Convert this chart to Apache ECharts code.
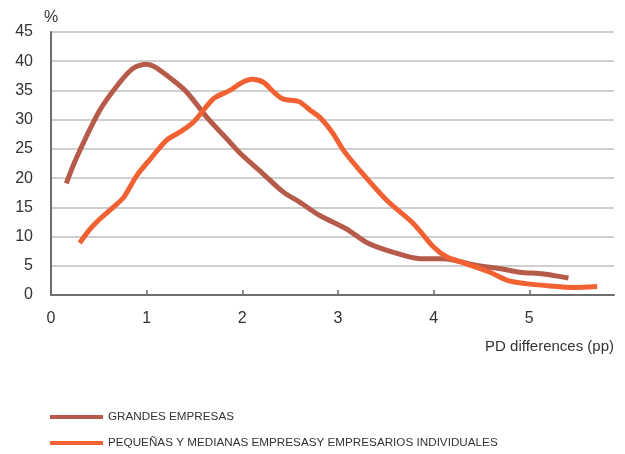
<!DOCTYPE html>
<html>
<head>
<meta charset="utf-8">
<script src="https://cdn.jsdelivr.net/npm/echarts@6/dist/echarts.min.js"></script>
<style>
html,body{margin:0;padding:0;background:#fff;}
#chart{width:625px;height:454px;}
</style>
</head>
<body>
<div id="chart"></div>
<script>
// series names
var seriesNames = ['GRANDES EMPRESAS', 'PEQUEÑAS Y MEDIANAS EMPRESASY EMPRESARIOS INDIVIDUALES'];

// grandes empresas [pd diff, %]
var grandesX = [0.16, 0.27, 0.51, 0.72, 0.86, 1.0, 1.09, 1.28, 1.42, 1.63, 1.84, 1.98, 2.22, 2.43, 2.6, 2.81, 3.09, 3.3, 3.58, 3.86, 4.1, 4.45, 4.7, 4.9, 5.15, 5.41];
var grandesY = [19.1, 23.6, 31.6, 36.4, 38.8, 39.5, 39.0, 36.7, 34.7, 30.4, 26.7, 24.2, 20.7, 17.6, 15.9, 13.6, 11.3, 9.0, 7.3, 6.2, 6.2, 5.05, 4.5, 3.9, 3.6, 2.9];

// pymes y empresarios individuales
var pymesX = [0.3, 0.41, 0.51, 0.67, 0.76, 0.9, 1.04, 1.21, 1.35, 1.49, 1.7, 1.87, 1.98, 2.1, 2.22, 2.33, 2.43, 2.59, 2.71, 2.81, 2.95, 3.06, 3.23, 3.51, 3.79, 4.0, 4.14, 4.35, 4.59, 4.77, 4.98, 5.19, 5.46, 5.71];
var pymesY = [8.9, 11.3, 13.0, 15.3, 16.7, 20.5, 23.3, 26.5, 27.9, 29.6, 33.6, 35.0, 36.2, 36.9, 36.4, 34.7, 33.5, 33.1, 31.6, 30.4, 27.6, 24.7, 21.3, 16.2, 12.2, 8.2, 6.5, 5.3, 3.9, 2.5, 1.9, 1.6, 1.3, 1.45];

var colors = ['#b65a4a', '#f26132'];

function pairs(xs, ys){
	var arr = [];
	for(var i=0;i<xs.length;i++){
		arr.push([xs[i], ys[i]]);
	}
	return arr;
}

var chart = echarts.init(document.getElementById('chart'));
var font = 'Helvetica, Arial, "Liberation Sans", sans-serif';

//一个图例一行
function legendItem(name, top){
	return {
		left: 45,
		top: top,
		itemWidth: 53,
		itemHeight: 4,
		icon: 'rect',
		selectedMode: false,
		textStyle: {
			fontFamily: font,
			fontSize: 11.7,
			color: '#333'
		},
		data: [name]
	};
}

var option = {
	animation: false,
	color: colors,
	grid: {
		left: 51,
		right: 11,
		top: 32,
		bottom: 159
	},
	legend: [legendItem(seriesNames[0], 406), legendItem(seriesNames[1], 432)],
	graphic: [{
		type: 'text',
		right: 11,
		top: 339,
		style: {
			text: 'PD differences (pp)',
			font: '15px ' + font,
			fill: '#333'
		}
	}],
	xAxis: {
		type: 'value',
		min: 0,
		max: 5.886,
		interval: 1,
		axisLine: { lineStyle: { color: '#6e6e6e', width: 2 } },
		axisTick: { show: true, inside: true, length: 5, lineStyle: { color: '#6e6e6e', width: 1.5 } },
		axisLabel: {
			showMaxLabel: false,
			margin: 16,
			fontSize: 16,
			fontFamily: font,
			color: '#333'
		},
		splitLine: { show: false }
	},
	yAxis: {
		type: 'value',
		min: 0,
		max: 45,
		interval: 5,
		name: '%',
		nameGap: 6,
		nameTextStyle: { fontSize: 16, fontFamily: font, color: '#333', align: 'center' },
		axisLine: { show: true, lineStyle: { color: '#6e6e6e', width: 2 } },
		axisTick: { show: false },
		axisLabel: {
			margin: 18,
			fontSize: 16,
			fontFamily: font,
			color: '#333'
		},
		splitLine: { lineStyle: { color: '#bfbfbf', width: 1.5 } }
	},
	series: [{
		name: seriesNames[0],
		type: 'line',
		smooth: 0.3,
		showSymbol: false,
		lineStyle: { width: 5, color: colors[0] },
		data: pairs(grandesX, grandesY)
	},{
		name: seriesNames[1],
		type: 'line',
		smooth: 0.3,
		showSymbol: false,
		lineStyle: { width: 5, color: colors[1] },
		data: pairs(pymesX, pymesY)
	}]
};
chart.setOption(option);
</script>
</body>
</html>
